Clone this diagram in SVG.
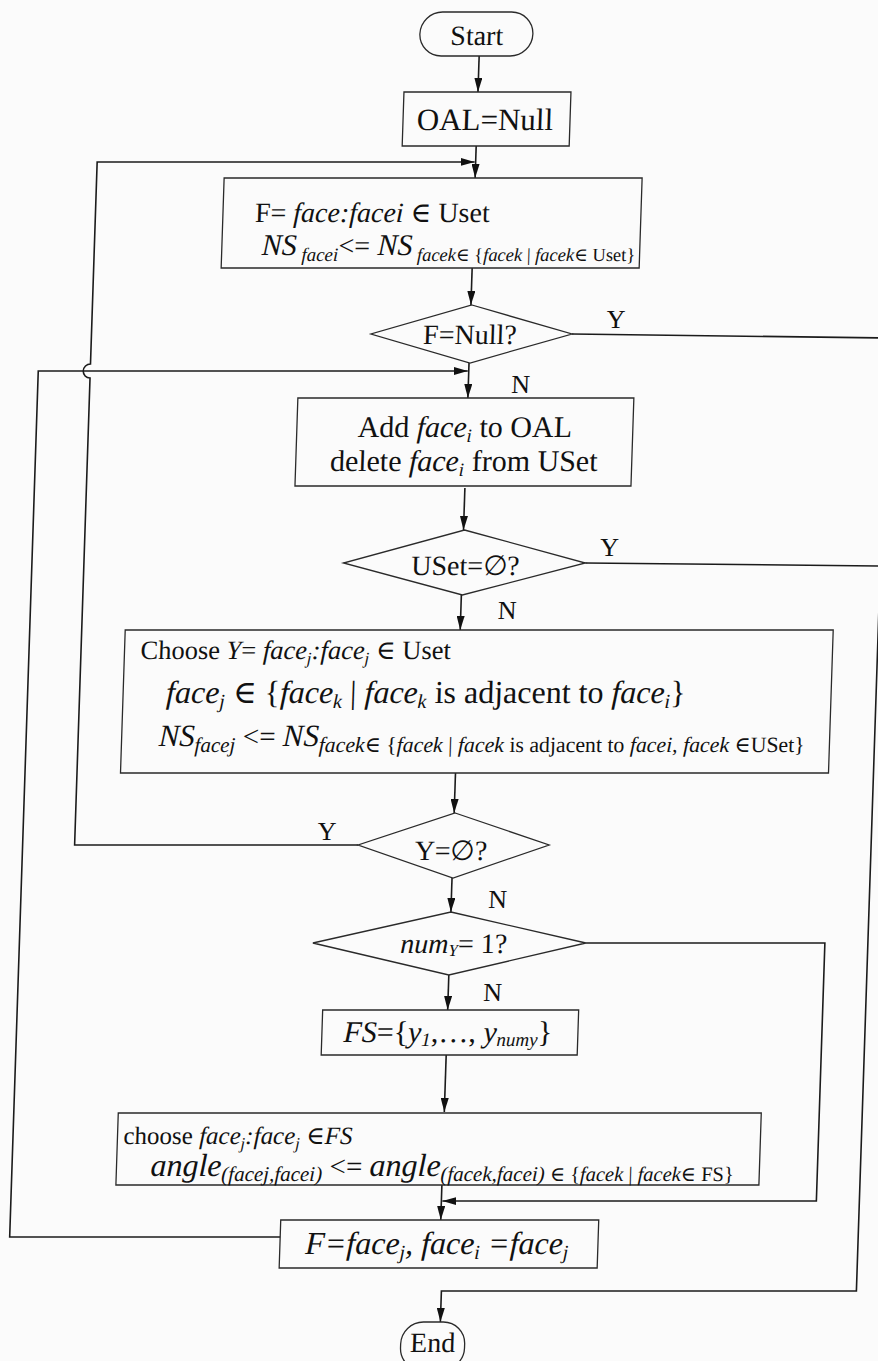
<svg xmlns="http://www.w3.org/2000/svg" width="878" height="1361" viewBox="0 0 878 1361">
  <style>
    .ln { fill: none; stroke: #1b1b1b; stroke-width: 1.6; }
    .box { fill: none; stroke: #2a2a2a; stroke-width: 1.3; }
    .t { font-family: "Liberation Serif", "Times New Roman", "DejaVu Serif", serif; fill: #111; }
    .i { font-style: italic; }
    .lbl { font-family: "Liberation Serif", "Times New Roman", serif; fill: #111; font-size: 26px; }
  </style>
  <defs>
    <marker id="ah" viewBox="0 0 14 8" refX="14" refY="4" markerWidth="14" markerHeight="8" markerUnits="userSpaceOnUse" orient="auto">
      <path d="M0,0 L14,4 L0,8 z" fill="#111"/>
    </marker>
  </defs>
  <rect width="878" height="1361" fill="#fbfbfb"/>

  <!-- whole sheet is slightly sheared, as scanned -->
  <g transform="skewX(-1.89)">

    <g id="connectors">
      <path class="ln" d="M481,56 V92" marker-end="url(#ah)"/>
      <path class="ln" d="M481,146 V178" marker-end="url(#ah)"/>
      <path class="ln" d="M481,268 V305" marker-end="url(#ah)"/>
      <path class="ln" d="M481,363 V398" marker-end="url(#ah)"/>
      <path class="ln" d="M481,488 V530" marker-end="url(#ah)"/>
      <path class="ln" d="M481,595 V630" marker-end="url(#ah)"/>
      <path class="ln" d="M481,773 V813" marker-end="url(#ah)"/>
      <path class="ln" d="M481,878 V912" marker-end="url(#ah)"/>
      <path class="ln" d="M481,975 V1010" marker-end="url(#ah)"/>
      <path class="ln" d="M481,1055 V1112" marker-end="url(#ah)"/>
      <path class="ln" d="M481,1185 V1220" marker-end="url(#ah)"/>
      <!-- Y = empty : back to face selection -->
      <path class="ln" d="M386,845 H102.5 V378 A7,7 0 0 1 102.5,364 V162 H480" marker-end="url(#ah)"/>
      <!-- next face : back to adding -->
      <path class="ln" d="M321,1237 H50.5 V371 H480" marker-end="url(#ah)"/>
      <!-- single candidate : skip selection -->
      <path class="ln" d="M617,943 H856 V1201 H482" marker-end="url(#ah)"/>
      <!-- exits to End -->
      <path class="ln" d="M583,334 L899,338 V1291 H484 V1322" marker-end="url(#ah)"/>
      <path class="ln" d="M604,563 L899,566"/>
      <text class="lbl" x="617" y="328">Y</text>
      <text class="lbl" x="524" y="393">N</text>
      <text class="lbl" x="618" y="556">Y</text>
      <text class="lbl" x="518" y="619">N</text>
      <text class="lbl" x="345" y="840">Y</text>
      <text class="lbl" x="518" y="908">N</text>
      <text class="lbl" x="516" y="1001">N</text>
    </g>

    <g id="start">
      <rect class="box" x="421" y="12" width="113" height="44" rx="22"/>
      <text class="t" x="478" y="45" font-size="28" text-anchor="middle">Start</text>
    </g>

    <g id="init">
      <rect class="box" x="407" y="92" width="167" height="54"/>
      <text class="t" x="489" y="130" font-size="31" text-anchor="middle">OAL=Null</text>
    </g>

    <g id="pick-face">
      <rect class="box" x="230" y="178" width="418" height="90"/>
      <text class="t" x="262" y="222" font-size="28">F= <tspan class="i">face:facei</tspan> ∈ Uset</text>
      <text class="t" x="270" y="255" font-size="30"><tspan class="i">NS</tspan><tspan class="i" font-size="19" dy="6"> facei</tspan><tspan font-size="28" dy="-6">&lt;=</tspan><tspan class="i"> NS</tspan><tspan font-size="18.5" dy="6"> <tspan class="i">facek</tspan>∈ {<tspan class="i">facek</tspan> | <tspan class="i">facek</tspan>∈ Uset}</tspan></text>
    </g>

    <g id="is-null">
      <polygon class="box" points="482,305 583,334 482,363 382,334"/>
      <text class="t" x="481" y="344" font-size="28" text-anchor="middle">F=Null?</text>
    </g>

    <g id="add-face">
      <rect class="box" x="311" y="398" width="336" height="88"/>
      <text class="t" x="479" y="437" font-size="30" text-anchor="middle">Add <tspan class="i">face</tspan><tspan class="i" font-size="19" dy="5">i</tspan><tspan dy="-5"> to OAL</tspan></text>
      <text class="t" x="479" y="471" font-size="30" text-anchor="middle">delete <tspan class="i">face</tspan><tspan class="i" font-size="19" dy="5">i</tspan><tspan dy="-5"> from USet</tspan></text>
    </g>

    <g id="uset-empty">
      <polygon class="box" points="482,530 604,563 482,595 362,563"/>
      <text class="t" x="484" y="575" font-size="28" text-anchor="middle">USet=∅?</text>
    </g>

    <g id="choose-adjacent">
      <rect class="box" x="146" y="630" width="708" height="143"/>
      <text class="t" x="162" y="659" font-size="26.5">Choose <tspan class="i">Y</tspan>= <tspan class="i">face</tspan><tspan class="i" font-size="17" dy="5">j</tspan><tspan class="i" dy="-5">:face</tspan><tspan class="i" font-size="17" dy="5">j</tspan><tspan dy="-5"> ∈ Uset</tspan></text>
      <text class="t" x="189" y="703" font-size="32"><tspan class="i">face</tspan><tspan class="i" font-size="20" dy="5">j</tspan><tspan dy="-5"> ∈ {</tspan><tspan class="i">face</tspan><tspan class="i" font-size="20" dy="5">k</tspan><tspan dy="-5"> | </tspan><tspan class="i">face</tspan><tspan class="i" font-size="20" dy="5">k</tspan><tspan dy="-5"> is adjacent to </tspan><tspan class="i">face</tspan><tspan class="i" font-size="20" dy="5">i</tspan><tspan dy="-5">}</tspan></text>
      <text class="t" x="183" y="746" font-size="31"><tspan class="i">NS</tspan><tspan class="i" font-size="21" dy="6">facej</tspan><tspan font-size="29" dy="-6"> &lt;= </tspan><tspan class="i">NS</tspan><tspan font-size="21.8" dy="6"><tspan class="i">facek</tspan>∈ {<tspan class="i">facek</tspan> | <tspan class="i">facek</tspan> is adjacent to <tspan class="i">facei, facek</tspan> ∈USet}</tspan></text>
    </g>

    <g id="y-empty">
      <polygon class="box" points="482,813 577,845 482,878 386,845"/>
      <text class="t" x="479" y="860" font-size="28" text-anchor="middle">Y=∅?</text>
    </g>

    <g id="num-one">
      <polygon class="box" points="481,912 617,943 481,975 344,943"/>
      <text class="t" x="485" y="953" font-size="28" text-anchor="middle"><tspan class="i">num</tspan><tspan class="i" font-size="17" dy="3">Y</tspan><tspan dy="-3">= 1?</tspan></text>
    </g>

    <g id="face-set">
      <rect class="box" x="356" y="1010" width="256" height="45"/>
      <text class="t" x="482" y="1042" font-size="30" text-anchor="middle"><tspan class="i">FS</tspan>={<tspan class="i">y</tspan><tspan class="i" font-size="19" dy="4">1</tspan><tspan dy="-4">,…, </tspan><tspan class="i">y</tspan><tspan class="i" font-size="19" dy="4">numy</tspan><tspan dy="-4">}</tspan></text>
    </g>

    <g id="choose-angle">
      <rect class="box" x="155" y="1113" width="643" height="72"/>
      <text class="t" x="161" y="1144" font-size="25">choose <tspan class="i">face</tspan><tspan class="i" font-size="16.5" dy="5">j</tspan><tspan class="i" dy="-5">:face</tspan><tspan class="i" font-size="16.5" dy="5">j</tspan><tspan dy="-5"> ∈</tspan><tspan class="i">FS</tspan></text>
      <text class="t" x="189" y="1176" font-size="32"><tspan class="i">angle</tspan><tspan class="i" font-size="21" dy="5">(facej,facei)</tspan><tspan font-size="29" dy="-5"> &lt;= </tspan><tspan class="i">angle</tspan><tspan class="i" font-size="21" dy="5">(facek,facei)</tspan><tspan font-size="20.5"> ∈ {<tspan class="i">facek</tspan> | <tspan class="i">facek</tspan>∈ FS}</tspan></text>
    </g>

    <g id="advance">
      <rect class="box" x="321" y="1220" width="318" height="48"/>
      <text class="t i" x="478" y="1254" font-size="32" text-anchor="middle">F=face<tspan font-size="20" dy="5">j</tspan><tspan dy="-5">,  face</tspan><tspan font-size="20" dy="5">i</tspan><tspan dy="-5"> =face</tspan><tspan font-size="20" dy="5">j</tspan></text>
    </g>

    <g id="end">
      <rect class="box" x="445" y="1322" width="64" height="48" rx="22"/>
      <text class="t" x="477" y="1352" font-size="28" text-anchor="middle">End</text>
    </g>
  </g>
</svg>
